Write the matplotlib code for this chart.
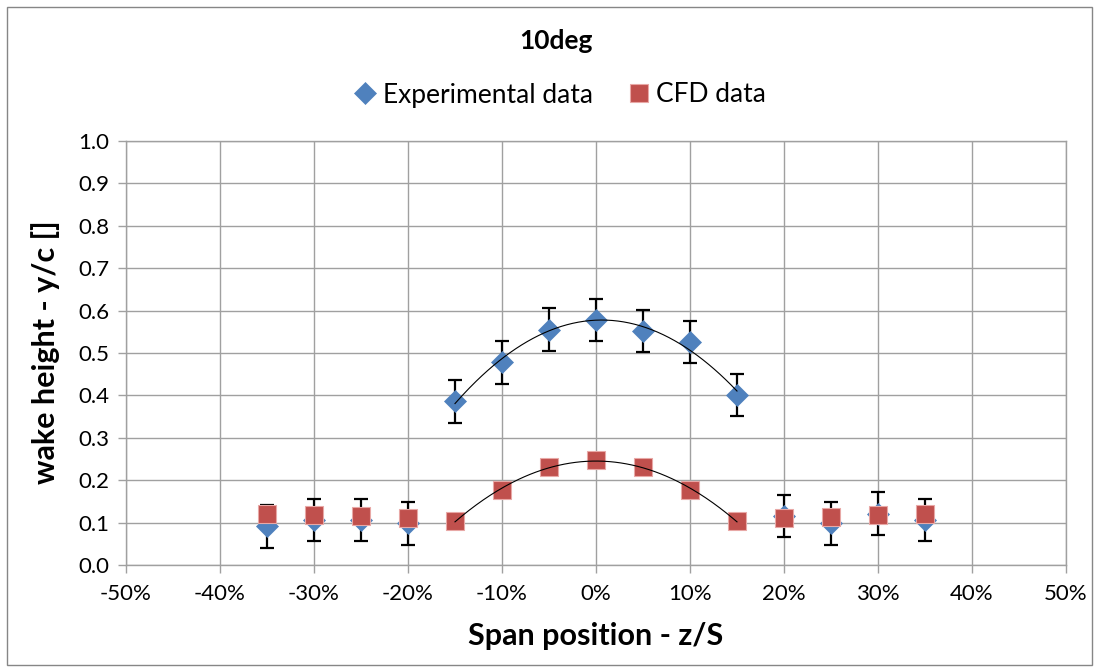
import numpy as np
import matplotlib
matplotlib.use("Agg")
import matplotlib.pyplot as plt
from matplotlib.ticker import PercentFormatter, MultipleLocator
from matplotlib.patches import Rectangle

plt.rcParams['font.family'] = ['Lato', 'DejaVu Sans']
plt.rcParams['axes.unicode_minus'] = False

# Data
span = [-0.35, -0.30, -0.25, -0.20, -0.15, -0.10, -0.05, 0.0, 0.05, 0.10, 0.15, 0.20, 0.25, 0.30, 0.35]
exp_y = [0.091, 0.106, 0.106, 0.098, 0.386, 0.478, 0.555, 0.578, 0.552, 0.526, 0.401, 0.116, 0.098, 0.121, 0.106]
exp_err = [0.05, 0.05, 0.05, 0.05, 0.05, 0.05, 0.05, 0.05, 0.05, 0.05, 0.05, 0.05, 0.05, 0.05, 0.05]
cfd_y = [0.120, 0.119, 0.115, 0.112, 0.104, 0.176, 0.231, 0.248, 0.231, 0.176, 0.104, 0.111, 0.113, 0.118, 0.121]
fit_range = (-0.15, 0.15)

title = "10deg"
xlabel = "Span position - z/S"
ylabel = "wake height - y/c []"

blue = "#4F81BD"
red = "#C0504D"

W, H = 1099, 672
fig = plt.figure(figsize=(W/100, H/100), dpi=100)
ax = fig.add_axes([126/W, 1 - 565/H, (1066-126)/W, (565-141)/H])

x = np.array(span)
ey = np.array(exp_y)
cy = np.array(cfd_y)
mask = (x >= fit_range[0] - 1e-9) & (x <= fit_range[1] + 1e-9)

ax.errorbar(x, ey, yerr=exp_err, fmt='none', ecolor='black', elinewidth=1.6,
            capsize=5, capthick=1.6, zorder=3)
h1, = ax.plot(x, ey, linestyle='none', marker='D', markersize=11.5, color=blue,
              markeredgecolor=blue, markeredgewidth=0.5, label='Experimental data', zorder=4)
h2, = ax.plot(x, cy, linestyle='none', marker='s', markersize=13, color=red,
              markeredgecolor='#E8A8A6', markeredgewidth=0.8, label='CFD data', zorder=5)

xs = np.linspace(fit_range[0], fit_range[1], 200)
pe = np.polyfit(x[mask], ey[mask], 2)
pc = np.polyfit(x[mask], cy[mask], 2)
ax.plot(xs, np.polyval(pe, xs), color='black', linewidth=0.8, zorder=6)
ax.plot(xs, np.polyval(pc, xs), color='black', linewidth=0.8, zorder=6)

ax.set_xlim(-0.5, 0.5)
ax.set_ylim(0.0, 1.0)
ax.xaxis.set_major_locator(MultipleLocator(0.1))
ax.yaxis.set_major_locator(MultipleLocator(0.1))
ax.xaxis.set_major_formatter(PercentFormatter(1.0, decimals=0))
ax.yaxis.set_major_formatter(lambda v, p: f"{v:.1f}")
ax.grid(True, color='#A0A0A0', linewidth=1.0, zorder=0)
ax.set_axisbelow(True)
for s in ax.spines.values():
    s.set_color('#A0A0A0')
    s.set_linewidth(1.0)
ax.tick_params(axis='both', direction='out', length=6, width=1.0, color='#A0A0A0',
               labelsize=16, labelcolor='black')
ax.tick_params(axis='y', pad=6)
ax.tick_params(axis='x', pad=8)

fig.text(46/W, 1 - 352/H, ylabel, ha='center', va='center', rotation=90,
         fontsize=22, fontweight='bold')
fig.text(596/W, 1 - 636/H, xlabel, ha='center', va='center',
         fontsize=22, fontweight='bold')
fig.text(556/W, 1 - 49/H, title, ha='center', va='baseline', fontsize=19, fontweight='bold')
fig.legend(handles=[h1, h2], loc='center', bbox_to_anchor=(561/W, 1 - 95/H), ncol=2,
           frameon=False, fontsize=19, handlelength=0.7, handletextpad=0.3,
           columnspacing=1.4, markerscale=0.95)

fig.add_artist(Rectangle((7/W, 7/H), (1092-7)/W, (665-7)/H, transform=fig.transFigure,
                         fill=False, edgecolor='#868686', linewidth=1.0))

fig.savefig("out.png", dpi=100)
